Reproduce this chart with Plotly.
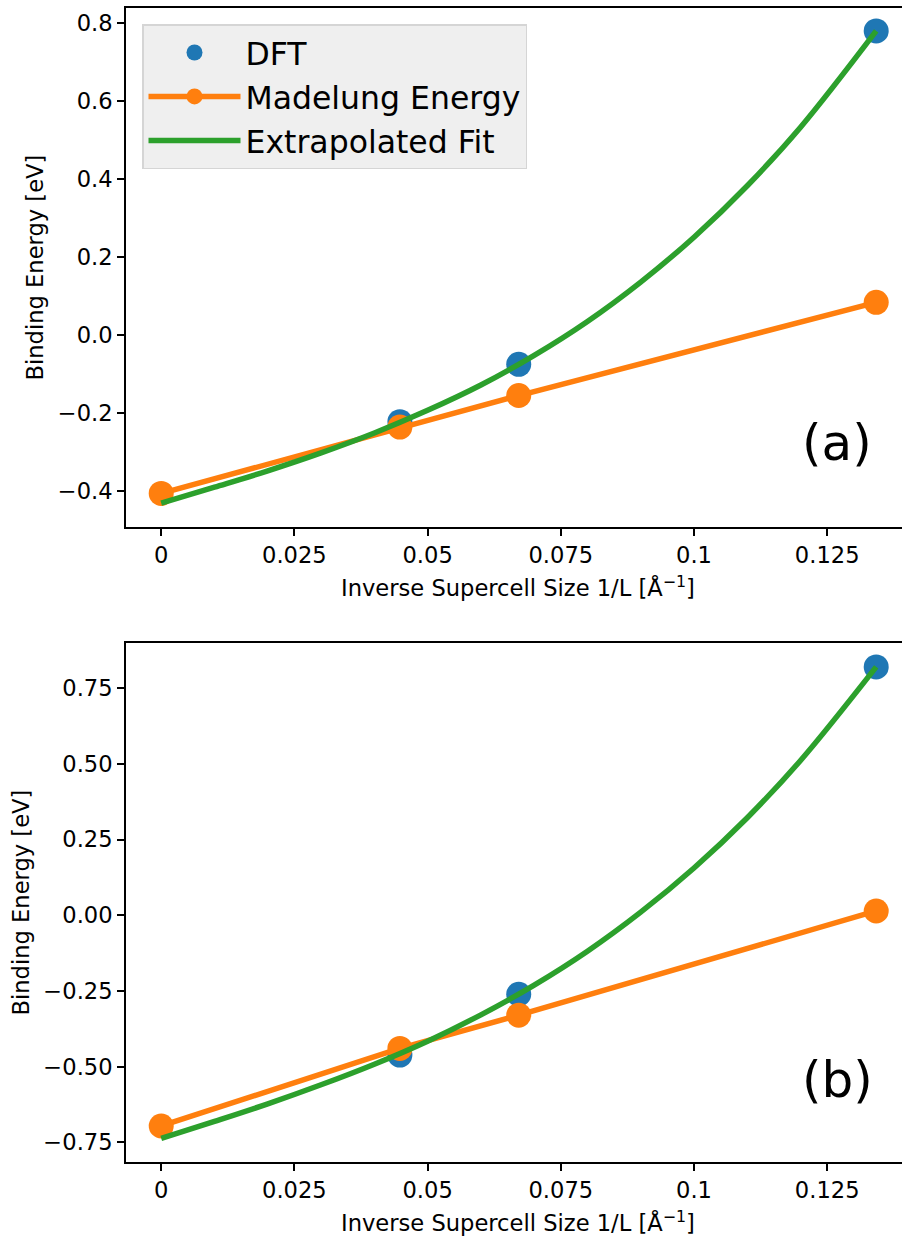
import plotly.graph_objects as go

# ---------------- data ----------------
inv_L = [0.0, 0.0448, 0.0671, 0.1342]          # 1/L [1/Å]
dft_x = [0.0448, 0.0671, 0.1342]

dft_a = [-0.223, -0.076, 0.779]
mad_a = [-0.407, -0.237, -0.156, 0.083]

dft_b = [-0.462, -0.261, 0.820]
mad_b = [-0.696, -0.440, -0.330, 0.014]

fit_x = [0.0, 0.01, 0.02, 0.03, 0.04, 0.05, 0.06, 0.07, 0.08, 0.09, 0.10, 0.11, 0.12, 0.1342]
fit_a = [-0.432, -0.391, -0.349, -0.303, -0.252, -0.194, -0.129, -0.053, 0.034, 0.135, 0.250, 0.382, 0.532, 0.779]
fit_b = [-0.737, -0.681, -0.623, -0.560, -0.492, -0.416, -0.329, -0.231, -0.119, 0.010, 0.156, 0.322, 0.511, 0.820]

x_ticks = [0, 0.025, 0.05, 0.075, 0.1, 0.125]
x_ticktext = ["0", "0.025", "0.05", "0.075", "0.1", "0.125"]
ya_ticks = [-0.4, -0.2, 0.0, 0.2, 0.4, 0.6, 0.8]
ya_ticktext = ["\u22120.4", "\u22120.2", "0.0", "0.2", "0.4", "0.6", "0.8"]
yb_ticks = [-0.75, -0.5, -0.25, 0.0, 0.25, 0.5, 0.75]
yb_ticktext = ["\u22120.75", "\u22120.50", "\u22120.25", "0.00", "0.25", "0.50", "0.75"]

BLUE, ORANGE, GREEN = "#1f77b4", "#ff7f0e", "#2ca02c"
FONT = "DejaVu Sans"
W, H = 902, 1236
TICK_SIZE = 22.6

fig = go.Figure()

panels = [
    ("x", "y", dft_a, mad_a, fit_a, True),
    ("x2", "y2", dft_b, mad_b, fit_b, False),
]
for xa, ya, dft, mad, fit, show in panels:
    fig.add_trace(go.Scatter(x=dft_x, y=dft, mode="markers", name="DFT",
                             marker=dict(color=BLUE, size=25), xaxis=xa, yaxis=ya,
                             showlegend=show, legendgroup="g1"))
    fig.add_trace(go.Scatter(x=inv_L, y=mad, mode="lines+markers", name="Madelung Energy",
                             line=dict(color=ORANGE, width=5.5),
                             marker=dict(color=ORANGE, size=25), xaxis=xa, yaxis=ya,
                             showlegend=show, legendgroup="g2"))
    fig.add_trace(go.Scatter(x=fit_x, y=fit, mode="lines", name="Extrapolated Fit",
                             line=dict(color=GREEN, width=5.5, shape="spline"),
                             xaxis=xa, yaxis=ya, showlegend=show, legendgroup="g3"))

def px_x(p):
    return p / W

def px_y(p):
    return 1 - p / H

x_range = [-0.00661, 0.13904]
common_x = dict(range=x_range, tickvals=x_ticks, ticktext=x_ticktext, showgrid=False,
                zeroline=False, showline=True, mirror=True, linecolor="black", linewidth=1.8,
                ticks="outside", ticklen=7, tickwidth=1.8, tickcolor="black",
                tickfont=dict(family=FONT, size=TICK_SIZE, color="black"))
common_y = dict(showgrid=False, zeroline=False, showline=True, mirror=False,
                linecolor="black", linewidth=1.8, ticks="outside", ticklen=7,
                tickwidth=1.8, tickcolor="black",
                tickfont=dict(family=FONT, size=TICK_SIZE, color="black"))

fig.update_layout(
    width=W, height=H,
    margin=dict(l=0, r=0, t=0, b=0),
    paper_bgcolor="white", plot_bgcolor="white",
    font=dict(family=FONT, color="black"),
    xaxis=dict(domain=[px_x(126), 1.0], anchor="y", **common_x),
    yaxis=dict(domain=[px_y(527), px_y(8)], anchor="x", range=[-0.4931, 0.8377],
               tickvals=ya_ticks, ticktext=ya_ticktext, **common_y),
    xaxis2=dict(domain=[px_x(126), 1.0], anchor="y2", **common_x),
    yaxis2=dict(domain=[px_y(1162), px_y(643)], anchor="x2", range=[-0.815, 0.899],
                tickvals=yb_ticks, ticktext=yb_ticktext, **common_y),
    legend=dict(x=px_x(142), y=px_y(24), xanchor="left", yanchor="top",
                bgcolor="#efefef", bordercolor="#d5d5d5", borderwidth=1.5,
                font=dict(family=FONT, size=31.5, color="black"),
                itemwidth=92, tracegroupgap=10, traceorder="normal"),
    showlegend=True,
)

annots = [
    dict(text="Binding Energy [eV]", x=px_x(34), y=px_y(267.5), textangle=-90, size=TICK_SIZE),
    dict(text="Binding Energy [eV]", x=px_x(20), y=px_y(902.5), textangle=-90, size=TICK_SIZE),
    dict(text="Inverse Supercell Size 1/L [Å<sup>\u22121</sup>]", x=px_x(518), y=px_y(586), textangle=0, size=TICK_SIZE),
    dict(text="Inverse Supercell Size 1/L [Å<sup>\u22121</sup>]", x=px_x(518), y=px_y(1221), textangle=0, size=TICK_SIZE),
    dict(text="(a)", x=px_x(837), y=px_y(443), textangle=0, size=50),
    dict(text="(b)", x=px_x(837), y=px_y(1080), textangle=0, size=50),
]
for a in annots:
    fig.add_annotation(text=a["text"], x=a["x"], y=a["y"], xref="paper", yref="paper",
                       xanchor="center", yanchor="middle", showarrow=False,
                       textangle=a["textangle"],
                       font=dict(family=FONT, size=a["size"], color="black"))

fig.write_html("out.html")
